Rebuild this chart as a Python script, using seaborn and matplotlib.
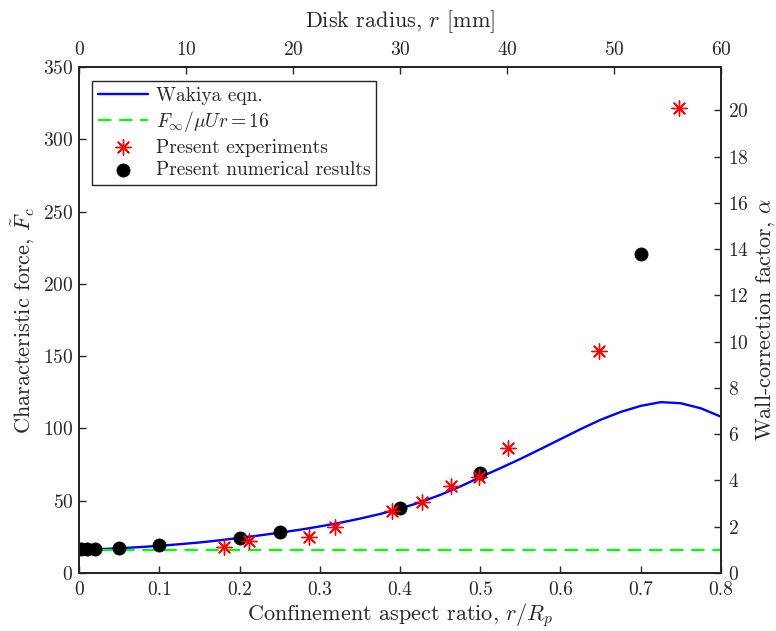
import matplotlib
matplotlib.use("Agg")
import matplotlib.pyplot as plt
import seaborn as sns
import pandas as pd

# Wakiya prediction, sampled along r/Rp
wakiya_ratio = [0.0, 0.025, 0.05, 0.075, 0.1, 0.125, 0.15, 0.175, 0.2, 0.225,
                0.25, 0.275, 0.3, 0.325, 0.35, 0.375, 0.4, 0.425, 0.45, 0.475,
                0.5, 0.525, 0.55, 0.575, 0.6, 0.625, 0.65, 0.675, 0.7, 0.725,
                0.75, 0.775, 0.8]
wakiya_force = [16.0, 16.5, 17.1, 17.9, 18.8, 19.9, 21.1, 22.6, 24.3, 26.0,
                27.9, 29.9, 32.2, 34.7, 37.6, 40.8, 44.5, 48.9, 54.0, 59.8,
                66.3, 72.5, 78.9, 85.7, 92.6, 99.5, 106.0, 111.4, 115.6, 118.2,
                117.4, 113.9, 108.1]

# Unbounded (Stokes) limit
stokes_value = 16.0

# Measurements
exp_ratio = [0.181, 0.212, 0.286, 0.319, 0.390, 0.427, 0.463, 0.499, 0.535, 0.648, 0.748]
exp_force = [18.2, 22.1, 25.1, 32.0, 43.1, 49.3, 60.2, 66.2, 86.7, 153.6, 321.4]

# Simulations
num_ratio = [0.002, 0.01, 0.02, 0.05, 0.1, 0.2, 0.25, 0.4, 0.5, 0.7]
num_force = [16.3, 16.5, 16.8, 17.5, 19.1, 24.2, 28.1, 45.2, 69.0, 220.4]

pipe_radius_mm = 75.0

sns.set_style("white")
plt.rcParams["font.family"] = ["cmr10", "DejaVu Serif"]
plt.rcParams["mathtext.fontset"] = "cm"
plt.rcParams["axes.formatter.use_mathtext"] = True
plt.rcParams["axes.unicode_minus"] = False

fig = plt.figure(figsize=(7.76, 6.31), dpi=100)
ax = fig.add_axes([79 / 776, 1 - 573 / 631, 642 / 776, 506 / 631])

wak = pd.DataFrame({"ratio": wakiya_ratio, "force": wakiya_force})
sns.lineplot(data=wak, x="ratio", y="force", ax=ax, color="#0000FF", lw=1.7,
             label="Wakiya eqn.", sort=False)

stokes = pd.DataFrame({"ratio": [0.0, 0.8], "force": [stokes_value, stokes_value]})
sns.lineplot(data=stokes, x="ratio", y="force", ax=ax, color="#00FF00", lw=1.6,
             label=r"$F_\infty/\mu U r = 16$")
ax.lines[-1].set_dashes((6, 3.5))

exp = pd.DataFrame({"ratio": exp_ratio, "force": exp_force})
sns.scatterplot(data=exp, x="ratio", y="force", ax=ax, marker=(8, 2, 0), s=120,
                color="#FF0000", edgecolor="#FF0000", linewidth=1.0,
                label="Present experiments", zorder=4)

num = pd.DataFrame({"ratio": num_ratio, "force": num_force})
sns.scatterplot(data=num, x="ratio", y="force", ax=ax, marker="o", s=90,
                color="black", edgecolor="black", linewidth=0.5,
                label="Present numerical results", zorder=3)

ax.set_xlim(0, 0.8)
ax.set_ylim(0, 350)
ax.set_xticks([0, 0.1, 0.2, 0.3, 0.4, 0.5, 0.6, 0.7, 0.8])
ax.set_xticklabels(["0", "0.1", "0.2", "0.3", "0.4", "0.5", "0.6", "0.7", "0.8"])
ax.set_yticks(range(0, 351, 50))
ax.set_xlabel(r"Confinement aspect ratio, $r/R_p$", fontsize=16, labelpad=1)
ax.set_ylabel(r"Characteristic force, $\tilde{F}_c$", fontsize=16, labelpad=4)

# Right axis: wall-correction factor
ax_r = ax.twinx()
ax_r.set_ylim(0, 350 / stokes_value)
ax_r.set_yticks(range(0, 21, 2))
ax_r.set_ylabel(r"Wall-correction factor, $\alpha$", fontsize=16, labelpad=3)

# Top axis: disk radius in mm
ax_t = ax.twiny()
ax_t.set_xlim(0, 0.8 * pipe_radius_mm)
ax_t.set_xticks(range(0, 61, 10))
ax_t.set_xlabel(r"Disk radius, $r$ [mm]", fontsize=16, labelpad=10)

for a in (ax, ax_r, ax_t):
    a.tick_params(direction="in", length=5, width=1.0, labelsize=14, color="#262626")
    for sp in a.spines.values():
        sp.set_linewidth(1.3)
        sp.set_color("#262626")
ax.tick_params(axis="x", pad=6)
ax.tick_params(axis="y", pad=4)
ax_r.tick_params(axis="y", pad=5)
ax_t.tick_params(axis="x", pad=6)

handles, labels = ax.get_legend_handles_labels()
ax.get_legend().remove()
leg = ax_t.legend(handles, labels, loc="upper left", bbox_to_anchor=(0.02, 0.972),
                  fontsize=14, frameon=True, fancybox=False, framealpha=1,
                  edgecolor="#262626", borderpad=0.3, labelspacing=0.22,
                  handlelength=2.6, handletextpad=0.4, borderaxespad=0)
leg.get_frame().set_linewidth(1.0)

fig.savefig("out.png", dpi=100)
